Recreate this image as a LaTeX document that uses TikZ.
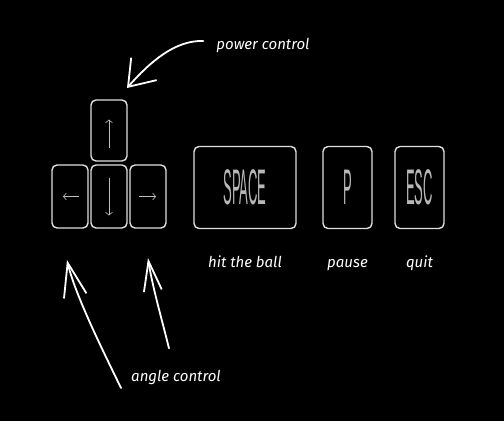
\documentclass[tikz,border=0pt]{standalone}
\usepackage{fontspec}
\newfontfamily\handfont{Fira Sans}
\newfontfamily\keyfont{Liberation Sans}
\usetikzlibrary{arrows.meta,positioning}
\newcommand\keylabel[1]{\scalebox{0.26}[1]{\keyfont\fontsize{50}{50}\selectfont #1}}
\tikzset{
  keycap/.style={draw=white!88!black, line width=1.4pt, rounded corners=5pt,
                 inner sep=0pt, text=white!72!black},
  keyarrow/.style={white!75!black, line width=0.6pt,
                   -{Straight Barb[length=3pt,width=7pt]}},
  note/.style={text=white, inner sep=0pt, text height=11pt, text depth=4pt,
               font=\handfont\itshape\fontsize{15}{17}\selectfont},
  callout/.style={white, line width=1.8pt, line cap=round, line join=round}
}

\begin{document}
\begin{tikzpicture}[x=1pt,y=-1pt]
  \fill[black] (0,0) rectangle (504,421);

  % arrow keys
  \node[keycap, minimum width=36pt, minimum height=61pt] (up) at (109,130.5) {};
  \node[keycap, minimum width=36pt, minimum height=63pt] (left) at (70,196.5) {};
  \node[keycap, minimum width=36pt, minimum height=63pt] (down) at (109,196.5) {};
  \node[keycap, minimum width=36pt, minimum height=63pt] (right) at (148,196.5) {};
  \draw[keyarrow] ([shift={(0,17)}]up.center) -- ([shift={(0,-11)}]up.center);
  \draw[keyarrow] ([shift={(0,-19)}]down.center) -- ([shift={(0,19)}]down.center);
  \draw[keyarrow] ([shift={(9,0)}]left.center) -- ([shift={(-7,0)}]left.center);
  \draw[keyarrow] ([shift={(-9,0)}]right.center) -- ([shift={(8,0)}]right.center);

  % other keys with their captions
  \foreach \n/\x/\w/\t/\c in {space/245/102/SPACE/hit the ball,
                              pause/347.5/49/P/pause,
                              quit/419.5/49/ESC/quit}{
    \node[keycap, minimum width=\w pt, minimum height=82pt] (\n) at (\x,187.5) {\keylabel{\t}};
    \node[note, below=27pt of \n] (\n-cap) {\c};
  }

  % callouts
  \node[note] (power) at (263,46) {power control};
  \node[note] (angle) at (176,378) {angle control};
  \coordinate (powertip) at (127,88);
  \coordinate (lefttip) at (67,260);
  \coordinate (righttip) at (148,258);
  \draw[callout, -{Straight Barb[length=24pt,width=34pt]}]
    ([xshift=-13pt,yshift=5pt]power.west) .. controls (175,40) and (150,62) .. (powertip);
  \draw[callout, -{Straight Barb[length=34pt,width=23pt]}]
    ([xshift=-10pt,yshift=-10pt]angle.west) .. controls (105,355) and (75,295) .. (lefttip);
  \draw[callout, -{Straight Barb[length=30pt,width=18pt]}]
    ([xshift=-7pt,yshift=22pt]angle.north) .. controls (162,320) and (152,285) .. (righttip);
\end{tikzpicture}
\end{document}
